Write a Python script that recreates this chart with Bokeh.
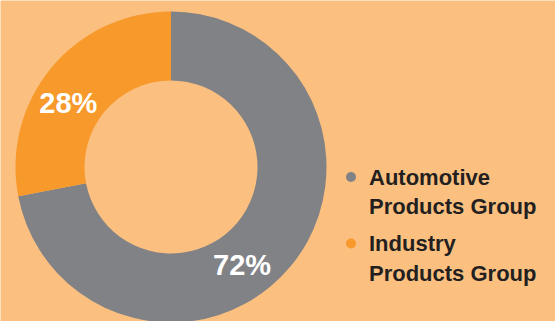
import math
from bokeh.plotting import figure
from bokeh.models import Range1d, ColumnDataSource
from bokeh.core.properties import value
from bokeh.embed import file_html
from bokeh.resources import INLINE

# ---- data ----
categories = ["Automotive Products Group", "Industry Products Group"]
legend_lines = [["Automotive", "Products Group"], ["Industry", "Products Group"]]
shares = [72, 28]
pct_labels = ["72%", "28%"]

# ---- style / layout ----
colors = ["#818286", "#F7992B"]
bg = "#FBBF7F"
W, H = 555, 321
cx, cy = 170.5, H - 166.5
r_out, r_in = 155.5, 86.5
label_r = 121.0
label_angles_deg = [-54.0, 148.0]  # label placement angles (math convention)

total = sum(shares)
starts, ends = [], []
a = math.pi / 2
for s in shares:
    starts.append(a)
    a -= s / total * 2 * math.pi
    ends.append(a)

p = figure(width=W, height=H, output_backend="svg", toolbar_location=None,
           x_range=Range1d(0, W), y_range=Range1d(0, H), min_border=0,
           background_fill_color=bg, border_fill_color=bg, outline_line_color=None)
p.axis.visible = False
p.grid.visible = False

src = ColumnDataSource(dict(start=starts, end=ends, color=colors, cat=categories))
p.annular_wedge(x=cx, y=cy, inner_radius=r_in, outer_radius=r_out,
                start_angle="start", end_angle="end", direction="clock",
                color="color", line_color=None, source=src)

lx = [cx + label_r * math.cos(math.radians(d)) for d in label_angles_deg]
ly = [cy + label_r * math.sin(math.radians(d)) for d in label_angles_deg]
p.text(x=lx, y=ly, text=pct_labels, text_color="white", text_font=value("Liberation Sans"),
       text_font_style="bold", text_font_size="29px", text_align="center", text_baseline="middle")

# legend
dot_x = 350.5
first_y = [H - 176.5, H - 243.0]
line_h = 29.5
for i, lines in enumerate(legend_lines):
    p.scatter(x=[dot_x], y=[first_y[i]], size=10, color=colors[i], line_color=None)
    ys = [first_y[i] - k * line_h for k in range(len(lines))]
    p.text(x=[368.5] * len(lines), y=ys, text=lines, text_color="#231F20",
           text_font=value("Liberation Sans"), text_font_style="bold",
           text_font_size="22px", text_align="left", text_baseline="middle")

open("out.html", "w").write(file_html(p, INLINE))
